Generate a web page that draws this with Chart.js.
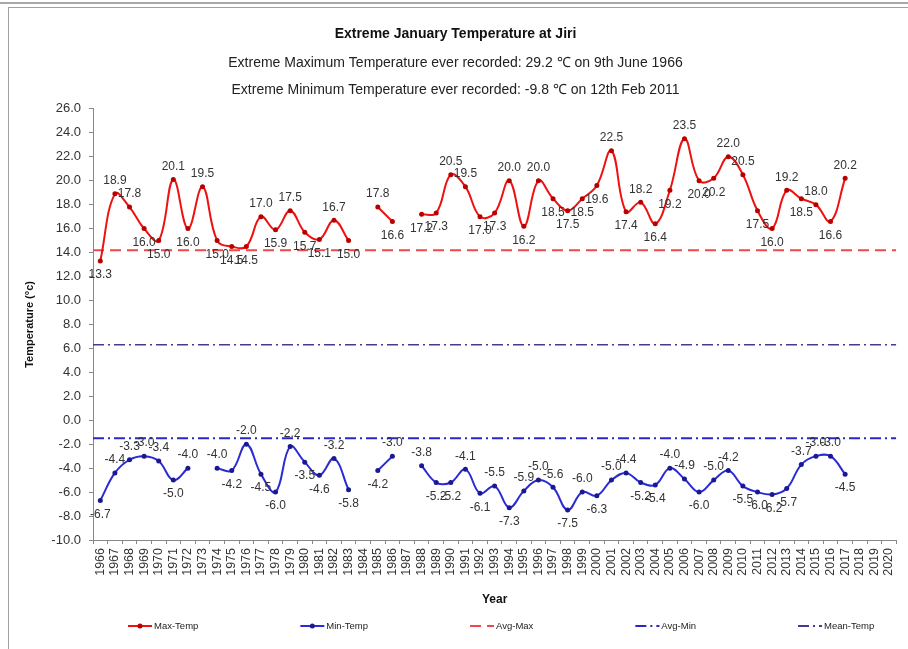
<!DOCTYPE html>
<html>
<head>
<meta charset="utf-8">
<script src="https://cdn.jsdelivr.net/npm/chart.js@4.4.1/dist/chart.umd.min.js"></script>
<style>
html, body { margin: 0; padding: 0; background: #fff; }
body { width: 908px; height: 649px; overflow: hidden; position: relative; }
#topline { position: absolute; left: 0; top: 2px; width: 908px; border-top: 2px solid #a8a8a8; }
#frame { position: absolute; left: 8px; top: 7px; width: 900px; height: 642px; border-left: 1px solid #a0a0a0; border-top: 1px solid #a0a0a0; }
#wrap { position: absolute; left: 9px; top: 8px; width: 899px; height: 641px; }
</style>
</head>
<body>
<div id="topline"></div>
<div id="frame"></div>
<div id="wrap"><canvas id="tempChart"></canvas></div>
<script>
const years = ['1966','1967','1968','1969','1970','1971','1972','1973','1974','1975',
  '1976','1977','1978','1979','1980','1981','1982','1983','1984','1985',
  '1986','1987','1988','1989','1990','1991','1992','1993','1994','1995',
  '1996','1997','1998','1999','2000','2001','2002','2003','2004','2005',
  '2006','2007','2008','2009','2010','2011','2012','2013','2014','2015',
  '2016','2017','2018','2019','2020'];

const maxTemp = [13.3, 18.9, 17.8, 16.0, 15.0, 20.1, 16.0, 19.5, 15.0, 14.5,
  14.5, 17.0, 15.9, 17.5, 15.7, 15.1, 16.7, 15.0, null, 17.8,
  16.6, null, 17.2, 17.3, 20.5, 19.5, 17.0, 17.3, 20.0, 16.2,
  20.0, 18.5, 17.5, 18.5, 19.6, 22.5, 17.4, 18.2, 16.4, 19.2,
  23.5, 20.0, 20.2, 22.0, 20.5, 17.5, 16.0, 19.2, 18.5, 18.0,
  16.6, 20.2, null, null, null];

const minTemp = [-6.7, -4.4, -3.3, -3.0, -3.4, -5.0, -4.0, null, -4.0, -4.2,
  -2.0, -4.5, -6.0, -2.2, -3.5, -4.6, -3.2, -5.8, null, -4.2,
  -3.0, null, -3.8, -5.2, -5.2, -4.1, -6.1, -5.5, -7.3, -5.9,
  -5.0, -5.6, -7.5, -6.0, -6.3, -5.0, -4.4, -5.2, -5.4, -4.0,
  -4.9, -6.0, -5.0, -4.2, -5.5, -6.0, -6.2, -5.7, -3.7, -3.0,
  -3.0, -4.5, null, null, null];

const avgMax = 14.2;
const avgMin = -1.5;
const meanTemp = 6.3;

const yTicks = { min: -10, max: 26, step: 2 };

const FONT = '"Liberation Sans", Arial, sans-serif';
Chart.defaults.font.family = FONT;
Chart.defaults.color = '#222';

// flat reference lines run over the whole plot width
function flat(v) { return [{ x: 0, y: v }, { x: 1, y: v }]; }

// value labels above peaks, below dips
const valueLabels = {
  id: 'valueLabels',
  afterDatasetsDraw(chart) {
    const ctx = chart.ctx;
    ctx.save();
    ctx.font = '12px ' + FONT;
    ctx.fillStyle = '#333';
    ctx.textAlign = 'center';
    ctx.textBaseline = 'middle';
    [0, 1].forEach(di => {
      const vals = chart.data.datasets[di].data;
      chart.getDatasetMeta(di).data.forEach((pt, i) => {
        const v = vals[i];
        if (v == null) return;
        const nb = [vals[i - 1], vals[i + 1]].filter(n => n != null);
        const ref = nb.length ? nb.reduce((a, b) => a + b, 0) / nb.length : v;
        const up = v >= ref;
        ctx.fillText(v.toFixed(1), pt.x, pt.y + (up ? -13 : 14));
      });
    });
    ctx.restore();
  }
};

// legend row at the bottom, drawn by hand for the wide spacing
const bottomLegend = {
  id: 'bottomLegend',
  afterDraw(chart) {
    const ctx = chart.ctx;
    const y = chart.height - 23;
    let x = 119;
    ctx.save();
    ctx.font = '9.5px ' + FONT;
    ctx.textBaseline = 'middle';
    chart.data.datasets.forEach(ds => {
      ctx.strokeStyle = ds.borderColor;
      ctx.lineWidth = 2;
      ctx.setLineDash(ds.borderDash || []);
      ctx.beginPath();
      ctx.moveTo(x, y);
      ctx.lineTo(x + 24, y);
      ctx.stroke();
      ctx.setLineDash([]);
      if (ds.pointRadius) {
        ctx.fillStyle = ds.pointBackgroundColor;
        ctx.beginPath();
        ctx.arc(x + 12, y, 2.5, 0, Math.PI * 2);
        ctx.fill();
      }
      ctx.fillStyle = '#222';
      ctx.fillText(ds.label, x + 26, y);
      x += 26 + ctx.measureText(ds.label).width + 102;
    });
    ctx.restore();
  }
};

new Chart(document.getElementById('tempChart'), {
  type: 'line',
  data: {
    labels: years,
    datasets: [
      { label: 'Max-Temp', data: maxTemp, borderColor: '#ee1111', borderWidth: 2,
        pointRadius: 2.5, pointBackgroundColor: '#b80000', pointBorderWidth: 0, tension: 0.4 },
      { label: 'Min-Temp', data: minTemp, borderColor: '#2b2bd6', borderWidth: 2,
        pointRadius: 2.5, pointBackgroundColor: '#1a1a90', pointBorderWidth: 0, tension: 0.4 },
      { label: 'Avg-Max', data: flat(avgMax), xAxisID: 'xFull', borderColor: '#f04848',
        borderWidth: 2, borderDash: [11, 6], pointRadius: 0 },
      { label: 'Avg-Min', data: flat(avgMin), xAxisID: 'xFull', borderColor: '#2828c8',
        borderWidth: 2, borderDash: [11, 4, 2, 4], pointRadius: 0 },
      { label: 'Mean-Temp', data: flat(meanTemp), xAxisID: 'xFull', borderColor: '#463a90',
        borderWidth: 1.5, borderDash: [11, 4, 2, 4], pointRadius: 0 }
    ]
  },
  options: {
    responsive: true,
    maintainAspectRatio: false,
    animation: false,
    events: [],
    layout: { padding: { left: 0, right: 6, top: 0, bottom: 41 } },
    scales: {
      x: {
        offset: true,
        ticks: { autoSkip: false, minRotation: 90, maxRotation: 90, font: { size: 12.5 }, color: '#333', padding: 4 },
        grid: { drawOnChartArea: false, offset: true, tickLength: 4, color: '#888' },
        border: { color: '#888' },
        title: { display: true, text: 'Year', font: { size: 12, weight: 'bold' }, color: '#111', padding: { top: 4, bottom: 1 } },
        afterFit(s) { s.height = 68; }
      },
      xFull: { type: 'linear', min: 0, max: 1, display: false },
      y: {
        min: yTicks.min,
        max: yTicks.max,
        ticks: { stepSize: yTicks.step, callback: v => v.toFixed(1), font: { size: 13 }, color: '#333', padding: 8 },
        grid: { drawOnChartArea: false, tickLength: 4, color: '#888' },
        border: { color: '#888' },
        title: { display: true, text: 'Temperature (°c)', font: { size: 11, weight: 'bold' }, color: '#111', padding: { top: 14, bottom: 0 } },
        afterFit(s) { s.width = 84; }
      }
    },
    plugins: {
      legend: { display: false },
      tooltip: { enabled: false },
      title: {
        display: true,
        text: 'Extreme January Temperature at Jiri',
        font: { size: 14, weight: 'bold' },
        color: '#111',
        padding: { top: 18, bottom: 7 }
      },
      subtitle: {
        display: true,
        text: ['Extreme Maximum Temperature ever recorded: 29.2 \u2103 on 9th June 1966',
               'Extreme Minimum Temperature ever recorded: -9.8 \u2103 on 12th Feb 2011'],
        font: { size: 14, lineHeight: 1.93 },
        color: '#222',
        padding: { top: 0, bottom: 5 }
      }
    }
  },
  plugins: [valueLabels, bottomLegend]
});
</script>
</body>
</html>
